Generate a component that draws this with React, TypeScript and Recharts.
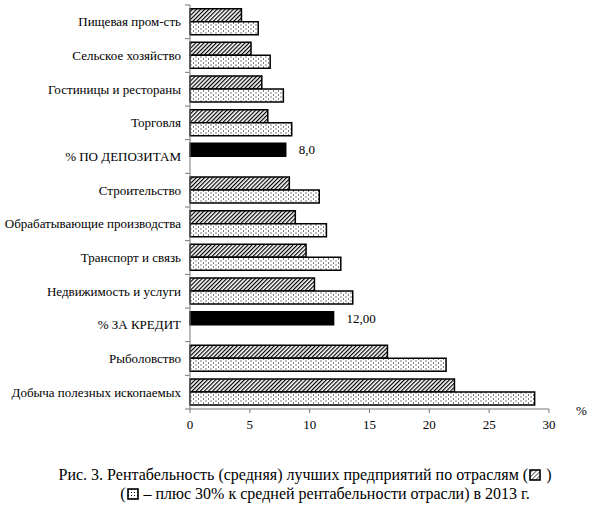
import React from 'react';
import { BarChart, Bar, XAxis, YAxis, Cell, LabelList } from 'recharts';

const categories = [
  'Пищевая пром-сть',
  'Сельское хозяйство',
  'Гостиницы и рестораны',
  'Торговля',
  '% ПО ДЕПОЗИТАМ',
  'Строительство',
  'Обрабатывающие производства',
  'Транспорт и связь',
  'Недвижимость и услуги',
  '% ЗА КРЕДИТ',
  'Рыболовство',
  'Добыча полезных ископаемых',
];
const averageValues = [4.3, 5.1, 6.0, 6.5, 8.0, 8.3, 8.8, 9.7, 10.4, 12.0, 16.5, 22.1];
const plusThirtyValues = [5.7, 6.7, 7.8, 8.5, null, 10.8, 11.4, 12.6, 13.6, null, 21.4, 28.8];
const rateRows = [false, false, false, false, true, false, false, false, false, true, false, false];
const valueLabels = ['', '', '', '', '8,0', '', '', '', '', '12,00', '', ''];
const xTicks = [0, 5, 10, 15, 20, 25, 30];

const data = categories.map((name, i) => ({
  name,
  avg: averageValues[i],
  plus: plusThirtyValues[i],
  label: valueLabels[i],
}));

const FONT = "Liberation Serif, 'DejaVu Serif', serif";
const AXIS_COLOR = '#777';

const CategoryTick = (props: any) => {
  const { x, y, payload, index, visibleTicksCount } = props;
  const half = payload && payload.offset ? payload.offset : 0;
  const axisX = x + 9;
  return (
    <g>
      <line x1={axisX - 5} x2={axisX} y1={y - half} y2={y - half} stroke={AXIS_COLOR} strokeWidth={1} />
      {index === visibleTicksCount - 1 && (
        <line x1={axisX - 5} x2={axisX} y1={y + half} y2={y + half} stroke={AXIS_COLOR} strokeWidth={1} />
      )}
      <text x={x} y={y} dy="0.35em" textAnchor="end" style={{ fontFamily: FONT }} fontSize={13} fill="#000">
        {payload.value}
      </text>
    </g>
  );
};

const RateLabel = (props: any) => {
  const { x, y, width, height, value } = props;
  if (!value) return null;
  return (
    <text x={x + width + 13} y={y + height / 2} dy="0.35em" style={{ fontFamily: FONT }} fontSize={13} fill="#000">
      {value}
    </text>
  );
};

const HatchIcon = () => (
  <svg width="12" height="12" style={{ verticalAlign: '-1px', margin: '0 1px' }}>
    <defs>
      <pattern id="iconHatch" patternUnits="userSpaceOnUse" width="3" height="3" patternTransform="rotate(45)">
        <line x1="0" y1="0" x2="0" y2="3" stroke="#000" strokeWidth="1.2" />
      </pattern>
    </defs>
    <rect x="1" y="1" width="10" height="10" fill="url(#iconHatch)" stroke="#000" strokeWidth="1.6" />
  </svg>
);

const DotIcon = () => (
  <svg width="12" height="12" style={{ verticalAlign: '-1px', margin: '0 1px' }}>
    <defs>
      <pattern id="iconDots" patternUnits="userSpaceOnUse" width="3" height="3">
        <rect x="1" y="1" width="1" height="1" fill="#000" />
      </pattern>
    </defs>
    <rect x="1" y="1" width="10" height="10" fill="url(#iconDots)" stroke="#000" strokeWidth="1.6" />
  </svg>
);

export default function App() {
  return (
    <div style={{ position: 'relative', width: 595, height: 509, background: '#fff', overflow: 'hidden', fontFamily: FONT }}>
      <style>{'body{margin:0;background:#fff;} svg text{font-family:' + FONT + ';}'}</style>
      <BarChart
        width={595}
        height={445}
        data={data}
        layout="vertical"
        margin={{ top: 5, right: 46, bottom: 6, left: 0 }}
        barCategoryGap="11%"
        barGap={0}
        style={{ fontFamily: FONT }}
      >
        <defs>
          <pattern id="hatch" patternUnits="userSpaceOnUse" width="2.9" height="2.9" patternTransform="rotate(45)">
            <rect x="0" y="0" width="2.9" height="2.9" fill="#fff" />
            <line x1="0.6" y1="0" x2="0.6" y2="2.9" stroke="#000" strokeWidth="1.2" />
          </pattern>
          <pattern id="dots" patternUnits="userSpaceOnUse" width="5" height="4">
            <rect x="0" y="0" width="5" height="4" fill="#fff" />
            <rect x="0.5" y="0.5" width="1" height="1" fill="#000" />
            <rect x="3" y="2.5" width="1" height="1" fill="#000" />
          </pattern>
        </defs>
        <XAxis
          type="number"
          domain={[0, 30]}
          ticks={xTicks}
          interval={0}
          tickSize={4}
          tickMargin={7}
          stroke={AXIS_COLOR}
          tick={{ fill: '#000', fontSize: 13 }}
          height={30}
        />
        <YAxis
          type="category"
          dataKey="name"
          width={190}
          interval={0}
          tickLine={false}
          tickSize={0}
          tickMargin={9}
          stroke={AXIS_COLOR}
          tick={<CategoryTick />}
        />
        <Bar dataKey="avg" fill="url(#hatch)" stroke="#000" strokeWidth={1.5} isAnimationActive={false}>
          {data.map((d, i) => (
            <Cell key={d.name} fill={rateRows[i] ? '#000' : 'url(#hatch)'} />
          ))}
          <LabelList dataKey="label" content={<RateLabel />} />
        </Bar>
        <Bar dataKey="plus" fill="url(#dots)" stroke="#000" strokeWidth={1.5} isAnimationActive={false} />
      </BarChart>
      <div style={{ position: 'absolute', left: 576, top: 403, fontSize: 13, color: '#000' }}>%</div>
      <div style={{ position: 'absolute', left: 0, top: 465, width: 610, textAlign: 'center', fontSize: 16, lineHeight: '19px', color: '#000', whiteSpace: 'nowrap' }}>
        Рис. 3. Рентабельность (средняя) лучших предприятий по отраслям (<HatchIcon /> )
      </div>
      <div style={{ position: 'absolute', left: 0, top: 484, width: 650, textAlign: 'center', fontSize: 16, lineHeight: '19px', color: '#000', whiteSpace: 'nowrap' }}>
        (<DotIcon /> – плюс 30% к средней рентабельности отрасли) в 2013 г.
      </div>
    </div>
  );
}
